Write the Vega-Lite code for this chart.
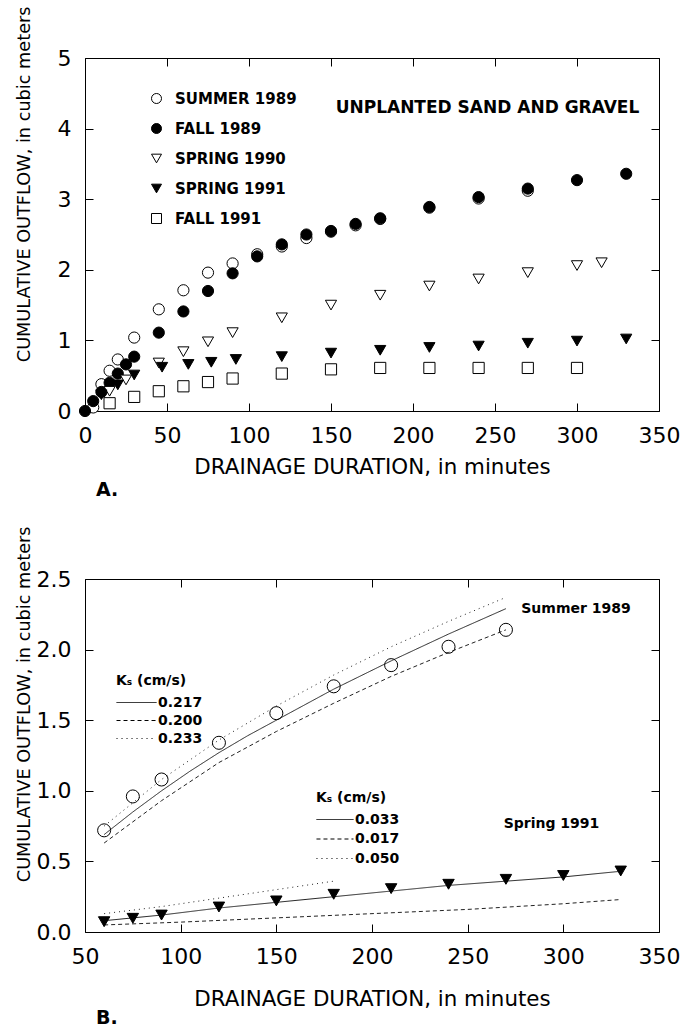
{
  "$schema": "https://vega.github.io/schema/vega-lite/v6.json",
  "padding": {"left": 14, "top": 5, "right": 5, "bottom": 0},
  "background": "white",
  "bounds": "flush",
  "spacing": 168,
  "config": {
    "view": {"stroke": null},
    "font": "DejaVu Sans",
    "axis": {
      "grid": false,
      "domainColor": "black",
      "domainWidth": 1,
      "tickColor": "black",
      "tickSize": -8,
      "labelFont": "DejaVu Sans",
      "labelFontSize": 22,
      "labelColor": "black",
      "labelPadding": 22,
      "labelFlush": false,
      "labelOverlap": false,
      "titleFont": "DejaVu Sans",
      "titleColor": "black",
      "titleFontWeight": "normal"
    }
  },
  "datasets": {
    "panelA": [
      {"series": "SUMMER 1989", "t": 5, "v": 0.05},
      {"series": "SUMMER 1989", "t": 10, "v": 0.38},
      {"series": "SUMMER 1989", "t": 15, "v": 0.57},
      {"series": "SUMMER 1989", "t": 20, "v": 0.73},
      {"series": "SUMMER 1989", "t": 30, "v": 1.04},
      {"series": "SUMMER 1989", "t": 45, "v": 1.44},
      {"series": "SUMMER 1989", "t": 60, "v": 1.71},
      {"series": "SUMMER 1989", "t": 75, "v": 1.96},
      {"series": "SUMMER 1989", "t": 90, "v": 2.09},
      {"series": "SUMMER 1989", "t": 105, "v": 2.22},
      {"series": "SUMMER 1989", "t": 120, "v": 2.33},
      {"series": "SUMMER 1989", "t": 135, "v": 2.45},
      {"series": "SUMMER 1989", "t": 150, "v": 2.54},
      {"series": "SUMMER 1989", "t": 165, "v": 2.63},
      {"series": "SUMMER 1989", "t": 180, "v": 2.72},
      {"series": "SUMMER 1989", "t": 210, "v": 2.88},
      {"series": "SUMMER 1989", "t": 240, "v": 3.01},
      {"series": "SUMMER 1989", "t": 270, "v": 3.12},
      {"series": "FALL 1989", "t": 0, "v": 0},
      {"series": "FALL 1989", "t": 5, "v": 0.14},
      {"series": "FALL 1989", "t": 10, "v": 0.27},
      {"series": "FALL 1989", "t": 15, "v": 0.40},
      {"series": "FALL 1989", "t": 20, "v": 0.53},
      {"series": "FALL 1989", "t": 25, "v": 0.66},
      {"series": "FALL 1989", "t": 30, "v": 0.77},
      {"series": "FALL 1989", "t": 45, "v": 1.11},
      {"series": "FALL 1989", "t": 60, "v": 1.41},
      {"series": "FALL 1989", "t": 75, "v": 1.70},
      {"series": "FALL 1989", "t": 90, "v": 1.95},
      {"series": "FALL 1989", "t": 105, "v": 2.19},
      {"series": "FALL 1989", "t": 120, "v": 2.36},
      {"series": "FALL 1989", "t": 135, "v": 2.50},
      {"series": "FALL 1989", "t": 150, "v": 2.55},
      {"series": "FALL 1989", "t": 165, "v": 2.65},
      {"series": "FALL 1989", "t": 180, "v": 2.73},
      {"series": "FALL 1989", "t": 210, "v": 2.89},
      {"series": "FALL 1989", "t": 240, "v": 3.03},
      {"series": "FALL 1989", "t": 270, "v": 3.15},
      {"series": "FALL 1989", "t": 300, "v": 3.27},
      {"series": "FALL 1989", "t": 330, "v": 3.36},
      {"series": "SPRING 1990", "t": 15, "v": 0.28},
      {"series": "SPRING 1990", "t": 25, "v": 0.44},
      {"series": "SPRING 1990", "t": 45, "v": 0.68},
      {"series": "SPRING 1990", "t": 60, "v": 0.84},
      {"series": "SPRING 1990", "t": 75, "v": 0.98},
      {"series": "SPRING 1990", "t": 90, "v": 1.11},
      {"series": "SPRING 1990", "t": 120, "v": 1.32},
      {"series": "SPRING 1990", "t": 150, "v": 1.50},
      {"series": "SPRING 1990", "t": 180, "v": 1.64},
      {"series": "SPRING 1990", "t": 210, "v": 1.77},
      {"series": "SPRING 1990", "t": 240, "v": 1.87},
      {"series": "SPRING 1990", "t": 270, "v": 1.96},
      {"series": "SPRING 1990", "t": 300, "v": 2.06},
      {"series": "SPRING 1990", "t": 315, "v": 2.10},
      {"series": "SPRING 1991", "t": 10, "v": 0.23},
      {"series": "SPRING 1991", "t": 20, "v": 0.37},
      {"series": "SPRING 1991", "t": 30, "v": 0.51},
      {"series": "SPRING 1991", "t": 47, "v": 0.62},
      {"series": "SPRING 1991", "t": 63, "v": 0.66},
      {"series": "SPRING 1991", "t": 77, "v": 0.69},
      {"series": "SPRING 1991", "t": 92, "v": 0.73},
      {"series": "SPRING 1991", "t": 120, "v": 0.77},
      {"series": "SPRING 1991", "t": 150, "v": 0.82},
      {"series": "SPRING 1991", "t": 180, "v": 0.86},
      {"series": "SPRING 1991", "t": 210, "v": 0.90},
      {"series": "SPRING 1991", "t": 240, "v": 0.92},
      {"series": "SPRING 1991", "t": 270, "v": 0.96},
      {"series": "SPRING 1991", "t": 300, "v": 0.99},
      {"series": "SPRING 1991", "t": 330, "v": 1.02},
      {"series": "FALL 1991", "t": 15, "v": 0.11},
      {"series": "FALL 1991", "t": 30, "v": 0.20},
      {"series": "FALL 1991", "t": 45, "v": 0.28},
      {"series": "FALL 1991", "t": 60, "v": 0.35},
      {"series": "FALL 1991", "t": 75, "v": 0.41},
      {"series": "FALL 1991", "t": 90, "v": 0.46},
      {"series": "FALL 1991", "t": 120, "v": 0.53},
      {"series": "FALL 1991", "t": 150, "v": 0.59},
      {"series": "FALL 1991", "t": 180, "v": 0.61},
      {"series": "FALL 1991", "t": 210, "v": 0.61},
      {"series": "FALL 1991", "t": 240, "v": 0.61},
      {"series": "FALL 1991", "t": 270, "v": 0.61},
      {"series": "FALL 1991", "t": 300, "v": 0.61}
    ],
    "summerPts": [
      {"t": 60, "v": 0.72}, {"t": 75, "v": 0.96}, {"t": 90, "v": 1.08},
      {"t": 120, "v": 1.34}, {"t": 150, "v": 1.55}, {"t": 180, "v": 1.74},
      {"t": 210, "v": 1.89}, {"t": 240, "v": 2.02}, {"t": 270, "v": 2.14}
    ],
    "springPts": [
      {"t": 60, "v": 0.073}, {"t": 75, "v": 0.097}, {"t": 90, "v": 0.12},
      {"t": 120, "v": 0.177}, {"t": 150, "v": 0.22}, {"t": 180, "v": 0.267},
      {"t": 210, "v": 0.307}, {"t": 240, "v": 0.338}, {"t": 270, "v": 0.373},
      {"t": 300, "v": 0.40}, {"t": 330, "v": 0.432}
    ],
    "summerLines": [
      {"ks": "0.217", "t": 60, "v": 0.69}, {"ks": "0.217", "t": 75, "v": 0.85},
      {"ks": "0.217", "t": 90, "v": 1.00}, {"ks": "0.217", "t": 105, "v": 1.14},
      {"ks": "0.217", "t": 120, "v": 1.27}, {"ks": "0.217", "t": 135, "v": 1.39},
      {"ks": "0.217", "t": 150, "v": 1.50}, {"ks": "0.217", "t": 180, "v": 1.72},
      {"ks": "0.217", "t": 210, "v": 1.92}, {"ks": "0.217", "t": 240, "v": 2.11},
      {"ks": "0.217", "t": 270, "v": 2.29},
      {"ks": "0.200", "t": 60, "v": 0.63}, {"ks": "0.200", "t": 90, "v": 0.93},
      {"ks": "0.200", "t": 120, "v": 1.20}, {"ks": "0.200", "t": 150, "v": 1.42},
      {"ks": "0.200", "t": 180, "v": 1.62}, {"ks": "0.200", "t": 210, "v": 1.81},
      {"ks": "0.200", "t": 240, "v": 1.98}, {"ks": "0.200", "t": 270, "v": 2.14},
      {"ks": "0.233", "t": 60, "v": 0.75}, {"ks": "0.233", "t": 90, "v": 1.08},
      {"ks": "0.233", "t": 120, "v": 1.36}, {"ks": "0.233", "t": 150, "v": 1.60},
      {"ks": "0.233", "t": 180, "v": 1.82}, {"ks": "0.233", "t": 210, "v": 2.02},
      {"ks": "0.233", "t": 240, "v": 2.20}, {"ks": "0.233", "t": 270, "v": 2.37}
    ],
    "springLines": [
      {"ks": "0.033", "t": 60, "v": 0.08}, {"ks": "0.033", "t": 90, "v": 0.12},
      {"ks": "0.033", "t": 120, "v": 0.17}, {"ks": "0.033", "t": 150, "v": 0.21},
      {"ks": "0.033", "t": 180, "v": 0.25}, {"ks": "0.033", "t": 210, "v": 0.29},
      {"ks": "0.033", "t": 240, "v": 0.33}, {"ks": "0.033", "t": 270, "v": 0.36},
      {"ks": "0.033", "t": 300, "v": 0.39}, {"ks": "0.033", "t": 330, "v": 0.43},
      {"ks": "0.017", "t": 60, "v": 0.05}, {"ks": "0.017", "t": 100, "v": 0.07},
      {"ks": "0.017", "t": 150, "v": 0.10}, {"ks": "0.017", "t": 200, "v": 0.13},
      {"ks": "0.017", "t": 250, "v": 0.16}, {"ks": "0.017", "t": 300, "v": 0.20},
      {"ks": "0.017", "t": 330, "v": 0.23},
      {"ks": "0.050", "t": 60, "v": 0.13}, {"ks": "0.050", "t": 90, "v": 0.18},
      {"ks": "0.050", "t": 120, "v": 0.24}, {"ks": "0.050", "t": 150, "v": 0.30},
      {"ks": "0.050", "t": 180, "v": 0.36}
    ],
    "labelA": [{"label": "UNPLANTED SAND AND GRAVEL"}],
    "labelSummer": [{"label": "Summer 1989"}],
    "labelSpring": [{"label": "Spring 1991"}]
  },
  "vconcat": [
    {
      "width": 574,
      "height": 353,
      "title": {"text": "A.", "orient": "bottom", "anchor": "start", "frame": "group", "dx": 11, "offset": 4, "fontSize": 19, "fontWeight": "bold", "font": "DejaVu Sans", "color": "black"},
      "layer": [
        {
          "data": {"name": "panelA"},
          "mark": {"type": "point", "filled": true, "strokeWidth": 1, "opacity": 1, "size": 125},
          "encoding": {
            "x": {"field": "t", "type": "quantitative", "scale": {"domain": [0, 350], "nice": false, "zero": false},
              "axis": {"orient": "bottom", "values": [0, 50, 100, 150, 200, 250, 300, 350], "title": "DRAINAGE DURATION, in minutes", "titleFontSize": 21.4, "titleY": 45, "titleBaseline": "top"}},
            "y": {"field": "v", "type": "quantitative", "scale": {"domain": [0, 5], "nice": false},
              "axis": {"orient": "left", "values": [0, 1, 2, 3, 4, 5], "title": "CUMULATIVE OUTFLOW, in cubic meters", "titleFontSize": 17.7, "titleX": -52, "titleY": -52, "titleAlign": "right", "titleBaseline": "bottom", "titleAngle": -90}},
            "shape": {"field": "series", "type": "nominal", "title": "Season",
              "scale": {"domain": ["SUMMER 1989", "FALL 1989", "SPRING 1990", "SPRING 1991", "FALL 1991"], "range": ["circle", "circle", "triangle-down", "triangle-down", "square"]},
              "legend": {"orient": "none", "legendX": 64, "legendY": 33, "title": null, "labelFontSize": 15, "labelFontWeight": "bold", "labelFont": "DejaVu Sans", "labelColor": "black", "labelOffset": 11, "rowPadding": 14, "symbolSize": 100, "symbolStrokeWidth": 1, "padding": 0}},
            "fill": {"field": "series", "type": "nominal", "title": "Season",
              "scale": {"domain": ["SUMMER 1989", "FALL 1989", "SPRING 1990", "SPRING 1991", "FALL 1991"], "range": ["white", "black", "white", "black", "white"]},
              "legend": {"orient": "none", "legendX": 64, "legendY": 33, "title": null, "labelFontSize": 15, "labelFontWeight": "bold", "labelFont": "DejaVu Sans", "labelColor": "black", "labelOffset": 11, "rowPadding": 14, "symbolSize": 100, "symbolStrokeWidth": 1, "padding": 0}},
            "stroke": {"field": "series", "type": "nominal", "title": "Season",
              "scale": {"domain": ["SUMMER 1989", "FALL 1989", "SPRING 1990", "SPRING 1991", "FALL 1991"], "range": ["black", "black", "black", "black", "black"]},
              "legend": {"orient": "none", "legendX": 64, "legendY": 33, "title": null, "labelFontSize": 15, "labelFontWeight": "bold", "labelFont": "DejaVu Sans", "labelColor": "black", "labelOffset": 11, "rowPadding": 14, "symbolSize": 100, "symbolStrokeWidth": 1, "padding": 0}}
          }
        },
        {
          "data": {"name": "labelA"},
          "mark": {"type": "text", "align": "right", "baseline": "middle", "fontSize": 17, "fontWeight": "bold", "font": "DejaVu Sans", "color": "black"},
          "encoding": {
            "x": {"datum": 338, "type": "quantitative", "scale": {"domain": [0, 350], "nice": false, "zero": false},
              "axis": {"orient": "top", "labels": false, "title": null, "values": [0, 50, 100, 150, 200, 250, 300, 350]}},
            "y": {"datum": 4.29, "type": "quantitative", "scale": {"domain": [0, 5], "nice": false},
              "axis": {"orient": "right", "labels": false, "title": null, "values": [0, 1, 2, 3, 4, 5]}},
            "text": {"field": "label"}
          }
        }
      ],
      "resolve": {"axis": {"x": "independent", "y": "independent"}}
    },
    {
      "width": 574,
      "height": 353,
      "title": {"text": "B.", "orient": "bottom", "anchor": "start", "frame": "group", "dx": 11, "offset": 0, "fontSize": 19, "fontWeight": "bold", "font": "DejaVu Sans", "color": "black"},
      "layer": [
        {
          "data": {"name": "summerLines"},
          "mark": {"type": "line", "color": "#222", "strokeWidth": 1},
          "encoding": {
            "x": {"field": "t", "type": "quantitative", "scale": {"domain": [50, 350], "nice": false, "zero": false}, "axis": null},
            "y": {"field": "v", "type": "quantitative", "scale": {"domain": [0, 2.5], "nice": false}, "axis": null},
            "strokeDash": {"field": "ks", "type": "nominal",
              "scale": {"domain": ["0.217", "0.200", "0.233"], "range": [[1, 0], [4, 3], [1, 4]]},
              "legend": {"orient": "none", "legendX": 31, "legendY": 95, "title": "Kₛ (cm/s)", "titleFont": "DejaVu Sans", "titleFontSize": 14, "titleFontWeight": "bold", "titleColor": "black", "titlePadding": 7, "labelFont": "DejaVu Sans", "labelFontSize": 14, "labelFontWeight": "bold", "labelColor": "black", "labelOffset": 1, "rowPadding": 3, "symbolType": "M-4.71,0H1", "symbolSize": 196, "symbolOffset": 26, "symbolStrokeWidth": 1, "symbolStrokeColor": "black", "padding": 0}}
          }
        },
        {
          "data": {"name": "springLines"},
          "mark": {"type": "line", "color": "#222", "strokeWidth": 1},
          "encoding": {
            "x": {"field": "t", "type": "quantitative", "scale": {"domain": [50, 350], "nice": false, "zero": false}, "axis": null},
            "y": {"field": "v", "type": "quantitative", "scale": {"domain": [0, 2.5], "nice": false}, "axis": null},
            "strokeDash": {"field": "ks", "type": "nominal",
              "scale": {"domain": ["0.033", "0.017", "0.050"], "range": [[1, 0], [4, 3], [1, 4]]},
              "legend": {"orient": "none", "legendX": 231, "legendY": 212, "title": "Kₛ (cm/s)", "titleFont": "DejaVu Sans", "titleFontSize": 14, "titleFontWeight": "bold", "titleColor": "black", "titlePadding": 7, "labelFont": "DejaVu Sans", "labelFontSize": 14, "labelFontWeight": "bold", "labelColor": "black", "labelOffset": 1, "rowPadding": 4.5, "symbolType": "M-4.29,0H1", "symbolSize": 196, "symbolOffset": 23, "symbolStrokeWidth": 1, "symbolStrokeColor": "black", "padding": 0}}
          }
        },
        {
          "data": {"name": "summerPts"},
          "mark": {"type": "point", "shape": "circle", "filled": false, "stroke": "black", "strokeWidth": 1, "size": 170, "opacity": 1},
          "encoding": {
            "x": {"field": "t", "type": "quantitative", "scale": {"domain": [50, 350], "nice": false, "zero": false},
              "axis": {"orient": "bottom", "values": [50, 100, 150, 200, 250, 300, 350], "title": "DRAINAGE DURATION, in minutes", "titleFontSize": 21.4, "titleY": 56, "titleBaseline": "top"}},
            "y": {"field": "v", "type": "quantitative", "scale": {"domain": [0, 2.5], "nice": false},
              "axis": {"orient": "left", "values": [0, 0.5, 1, 1.5, 2, 2.5], "format": ".1f", "title": "CUMULATIVE OUTFLOW, in cubic meters", "titleFontSize": 17.7, "titleX": -52, "titleY": -53, "titleAlign": "right", "titleBaseline": "bottom", "titleAngle": -90}}
          }
        },
        {
          "data": {"name": "springPts"},
          "mark": {"type": "point", "shape": "triangle-down", "filled": true, "fill": "black", "stroke": "black", "strokeWidth": 1, "size": 130, "opacity": 1},
          "encoding": {
            "x": {"field": "t", "type": "quantitative", "scale": {"domain": [50, 350], "nice": false, "zero": false}, "axis": null},
            "y": {"field": "v", "type": "quantitative", "scale": {"domain": [0, 2.5], "nice": false}, "axis": null}
          }
        },
        {
          "data": {"name": "labelSummer"},
          "mark": {"type": "text", "align": "left", "baseline": "middle", "fontSize": 14, "fontWeight": "bold", "font": "DejaVu Sans", "color": "black"},
          "encoding": {
            "x": {"datum": 278, "type": "quantitative", "scale": {"domain": [50, 350], "nice": false, "zero": false},
              "axis": {"orient": "top", "labels": false, "title": null, "values": [50, 100, 150, 200, 250, 300, 350]}},
            "y": {"datum": 2.29, "type": "quantitative", "scale": {"domain": [0, 2.5], "nice": false},
              "axis": {"orient": "right", "labels": false, "title": null, "values": [0, 0.5, 1, 1.5, 2, 2.5]}},
            "text": {"field": "label"}
          }
        },
        {
          "data": {"name": "labelSpring"},
          "mark": {"type": "text", "align": "left", "baseline": "middle", "fontSize": 14, "fontWeight": "bold", "font": "DejaVu Sans", "color": "black"},
          "encoding": {
            "x": {"datum": 268.8, "type": "quantitative", "scale": {"domain": [50, 350], "nice": false, "zero": false}, "axis": null},
            "y": {"datum": 0.765, "type": "quantitative", "scale": {"domain": [0, 2.5], "nice": false}, "axis": null},
            "text": {"field": "label"}
          }
        }
      ],
      "resolve": {"scale": {"strokeDash": "independent"}, "axis": {"x": "independent", "y": "independent"}}
    }
  ]
}
